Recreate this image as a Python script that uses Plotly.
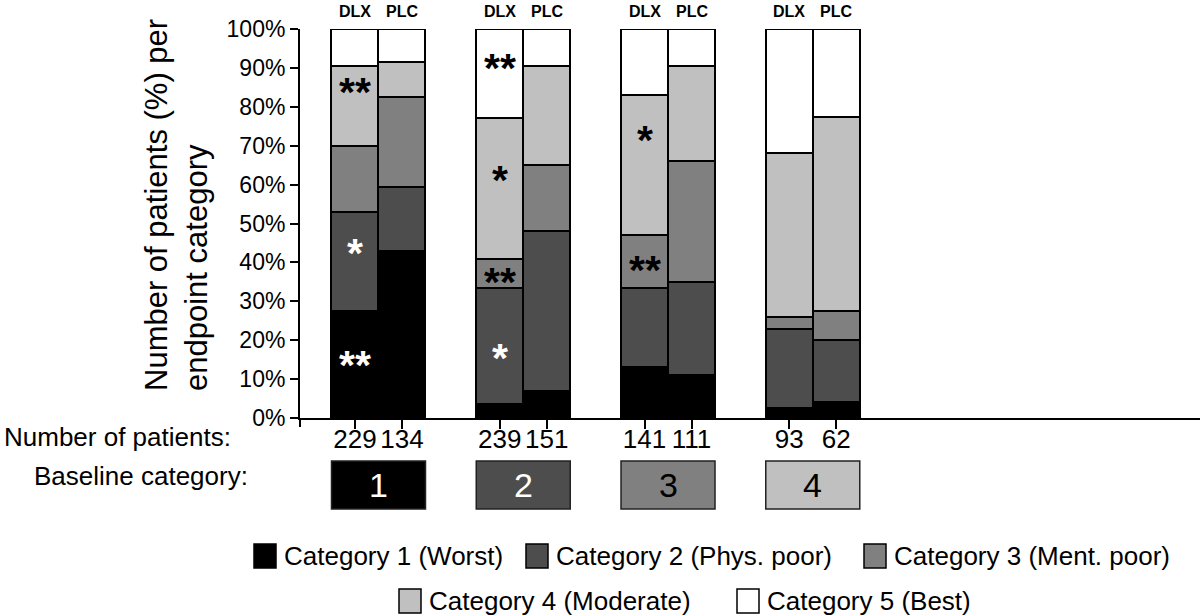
import plotly.graph_objects as go

# ---------------- data ----------------
groups = ["1", "2", "3", "4"]            # baseline category
arms = ["DLX", "PLC"]
patients = [229, 134, 239, 151, 141, 111, 93, 62]
cat_names = ["Category 1 (Worst)", "Category 2 (Phys. poor)", "Category 3 (Ment. poor)",
             "Category 4 (Moderate)", "Category 5 (Best)"]
cat1 = [27.5, 43.0, 3.5, 7.0, 13.0, 11.0, 2.5, 4.0]
cat2 = [25.5, 16.5, 30.0, 41.0, 20.5, 24.0, 20.5, 16.0]
cat3 = [17.0, 23.0, 7.5, 17.0, 13.5, 31.0, 3.0, 7.5]
cat4 = [20.5, 9.0, 36.0, 25.5, 36.0, 24.5, 42.0, 50.0]
cat5 = [9.5, 8.5, 23.0, 9.5, 17.0, 9.5, 32.0, 22.5]
series = [cat1, cat2, cat3, cat4, cat5]
# significance marks: (bar index, y value %, label, category of the segment)
sig_bar = [0, 0, 0, 2, 2, 2, 2, 4, 4]
sig_y = [85, 43.7, 15, 91.3, 62.5, 36.3, 16.7, 72.7, 39.3]
sig_text = ["**", "*", "**", "**", "*", "**", "*", "*", "**"]
sig_cat = [3, 1, 0, 4, 3, 2, 1, 3, 2]

# ---------------- style / layout ----------------
colors = ["#000000", "#4d4d4d", "#808080", "#c0c0c0", "#ffffff"]
FONT = "Liberation Sans, Arial, Helvetica, sans-serif"
W, H = 1200, 616
L, R, T, B = 300, 0, 29, 198
PW, PH = W - L - R, H - T - B
UNIT = 47.0  # px per x unit
first_center, group_gap = 1.17, 3.08

xpos = []
for g in range(len(groups)):
    for a in range(len(arms)):
        xpos.append(first_center + group_gap * g + a)


def px_x(px):
    return (px - L) / PW


def px_y(py):
    return (H - B - py) / PH


fig = go.Figure()
for i, vals in enumerate(series):
    fig.add_trace(go.Bar(
        x=xpos, y=vals, width=1.0, name=cat_names[i],
        marker=dict(color=colors[i], line=dict(color="black", width=2)),
        showlegend=False, hoverinfo="y"))

ann = []
shapes = []
# arm labels on top
for i, x in enumerate(xpos):
    ann.append(dict(x=x, xref="x", y=px_y(12), yref="paper", text=arms[i % 2],
                    xanchor="center", yanchor="middle", showarrow=False,
                    font=dict(family=FONT, size=16, color="black", weight="bold")))
# significance
for b, yv, t, c in zip(sig_bar, sig_y, sig_text, sig_cat):
    ann.append(dict(x=xpos[b], xref="x", y=yv, yref="y", text=t, showarrow=False,
                    xanchor="center", yanchor="middle", yshift=-5,
                    font=dict(family=FONT, size=41, weight="bold",
                              color="white" if c <= 1 else "black")))
# baseline boxes
for g, lab in enumerate(groups):
    x0 = xpos[2 * g] - 0.5
    x1 = xpos[2 * g + 1] + 0.5
    shapes.append(dict(type="rect", xref="x", yref="paper", x0=x0, x1=x1,
                       y0=px_y(509), y1=px_y(461), fillcolor=colors[g],
                       line=dict(color="#222222", width=1.5)))
    ann.append(dict(x=(x0 + x1) / 2, xref="x", y=px_y(485), yref="paper", text=lab,
                    xanchor="center", yanchor="middle", showarrow=False,
                    font=dict(family=FONT, size=34, color="white" if g <= 1 else "black")))
# left row labels
ann.append(dict(x=px_x(2), xref="paper", xanchor="left", y=px_y(437), yref="paper",
                yanchor="middle", text="Number of patients:", showarrow=False,
                font=dict(family=FONT, size=26, color="black")))
ann.append(dict(x=px_x(32), xref="paper", xanchor="left", y=px_y(476), yref="paper",
                yanchor="middle", text="Baseline category:", showarrow=False,
                font=dict(family=FONT, size=26, color="black")))
# y title
ann.append(dict(x=px_x(176), xref="paper", xanchor="center", y=px_y(205), yref="paper",
                yanchor="middle",
                text="Number of patients (%) per<br>endpoint category", textangle=-90,
                align="left", showarrow=False,
                font=dict(family=FONT, size=31, color="black")))
# small extension of y axis below 0
shapes.append(dict(type="line", xref="paper", yref="paper", x0=0, x1=0,
                   y0=px_y(427), y1=0, line=dict(color="black", width=2)))
# custom legend
legend_rows = [[0, 1, 2], [3, 4]]
legend_sq_x = [[254, 526, 864], [399, 737]]
legend_row_y = [556, 601]
for r, items in enumerate(legend_rows):
    yc = legend_row_y[r]
    for k, ci in enumerate(items):
        sx = legend_sq_x[r][k]
        shapes.append(dict(type="rect", xref="paper", yref="paper",
                           x0=px_x(sx), x1=px_x(sx + 22), y0=px_y(yc + 12), y1=px_y(yc - 12),
                           fillcolor=colors[ci], line=dict(color="black", width=1.5)))
        ann.append(dict(x=px_x(sx + 28), xref="paper", xanchor="left", y=px_y(yc), yref="paper",
                        yanchor="middle", text=cat_names[ci], showarrow=False,
                        font=dict(family=FONT, size=26, color="black")))

fig.update_layout(
    width=W, height=H, margin=dict(l=L, r=R, t=T, b=B, pad=0),
    barmode="stack", bargap=0, plot_bgcolor="white", paper_bgcolor="white",
    font=dict(family=FONT, color="black"),
    annotations=ann, shapes=shapes, showlegend=False,
    xaxis=dict(range=[0, PW / UNIT], tickmode="array", tickvals=xpos,
               ticktext=[str(p) for p in patients], showgrid=False, zeroline=False,
               showline=True, linecolor="black", linewidth=2, ticks="outside",
               ticklen=9, tickwidth=2, tickcolor="black", ticklabelstandoff=-12,
               tickfont=dict(family=FONT, size=26, color="black")),
    yaxis=dict(range=[0, 100], tickmode="array", tickvals=list(range(0, 101, 10)),
               ticktext=[f"{v}%" for v in range(0, 101, 10)], showgrid=False,
               zeroline=False, showline=True, linecolor="black", linewidth=2,
               ticks="outside", ticklen=8, tickwidth=2, tickcolor="black",
               tickfont=dict(family=FONT, size=23, color="black")),
)

fig.write_html("out.html", config={"displayModeBar": False},
               post_script="document.body.style.margin='0';document.body.style.padding='0';"
                           "document.body.style.overflow='hidden';")
